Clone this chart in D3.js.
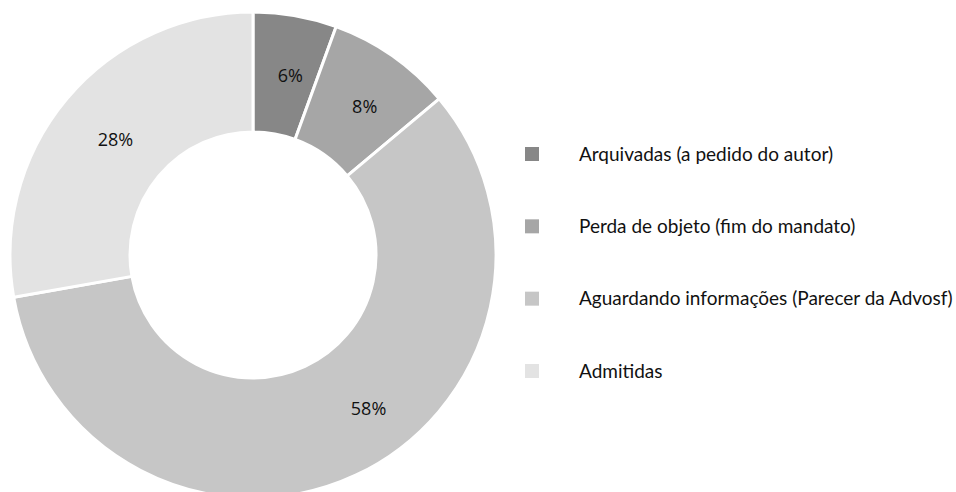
<!DOCTYPE html>
<html>
<head>
<meta charset="utf-8">
<script src="https://cdn.jsdelivr.net/npm/d3@7"></script>
<style>
  body { margin: 0; background: #fff; }
</style>
</head>
<body>
<div id="chart"></div>
<script>
// data (counts, shown as rounded %)
const categories = ["Arquivadas (a pedido do autor)", "Perda de objeto (fim do mandato)",
                    "Aguardando informações (Parecer da Advosf)", "Admitidas"];
const counts = [2, 3, 21, 10];
const colors = ["#878787", "#a6a6a6", "#c6c6c6", "#e3e3e3"];

const width = 956, height = 492;
const cx = 253, cy = 255, outerR = 243, innerR = 123, labelR = 186;
// small nudge for the big slice label, as in the original
const labelTurn = [0, 0, -0.2, 0];

const svg = d3.select("#chart")
  .append("svg")
    .attr("width", width)
    .attr("height", height);

const total = d3.sum(counts);
const pie = d3.pie().sort(null).value(d => d)(counts);

const arc = d3.arc().innerRadius(innerR).outerRadius(outerR);

const g = svg.append("g").attr("transform", `translate(${cx},${cy})`);

g.selectAll("path")
  .data(pie)
  .join("path")
    .attr("d", arc)
    .attr("fill", (d, i) => colors[i])
    .attr("stroke", "#fff")
    .attr("stroke-width", 3);

g.selectAll("text")
  .data(pie)
  .join("text")
    .attr("transform", (d, i) => {
      const a = (d.startAngle + d.endAngle) / 2 + labelTurn[i];
      return `translate(${labelR * Math.sin(a) + 5},${-labelR * Math.cos(a) + 4})`;
    })
    .attr("text-anchor", "middle")
    .attr("dy", "0.35em")
    .attr("font-family", "'Open Sans', sans-serif")
    .attr("font-size", 18)
    .attr("fill", "#111")
    .text(d => Math.round(d.value / total * 100) + "%");

// legend
const legend = svg.append("g").attr("transform", "translate(525,0)");
const rowY = d3.scalePoint().domain(categories).range([154, 371]);

const rows = legend.selectAll("g")
  .data(categories)
  .join("g")
    .attr("transform", d => `translate(0,${rowY(d)})`);

rows.append("rect")
  .attr("x", 0).attr("y", -7)
  .attr("width", 14).attr("height", 14)
  .attr("fill", (d, i) => colors[i]);

rows.append("text")
  .attr("x", 54)
  .attr("dy", "0.35em")
  .attr("font-family", "Lato, sans-serif")
  .attr("font-size", 19)
  .attr("fill", "#111")
  .text(d => d);
</script>
</body>
</html>
